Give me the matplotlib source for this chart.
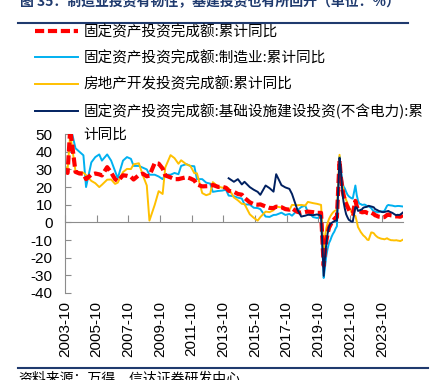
import numpy as np
import matplotlib
matplotlib.use("Agg")
import matplotlib.pyplot as plt

plt.rcParams['font.family'] = ['Liberation Sans', 'Noto Sans CJK SC', 'DejaVu Sans']
plt.rcParams['axes.unicode_minus'] = False

# 采样月份：2003-2019 取 2/6/9/12 月，2020 以后按月
dates = (["2003-10", "2003-12"]
         + [f"{y}-{m:02d}" for y in range(2004, 2020) for m in (2, 6, 9, 12)]
         + [f"{y}-{m:02d}" for y in range(2020, 2025) for m in range(2, 13)]
         + ["2025-02"])

# 固定资产投资完成额:累计同比
fai = [30.0, 28.0,
       53.0, 28.6, 27.7, 27.6,
       24.5, 27.1, 27.7, 27.2,
       26.6, 31.3, 28.2, 24.5,
       23.4, 26.7, 26.4, 25.8,
       24.3, 26.8, 27.6, 26.1,
       26.5, 33.6, 33.3, 30.5,
       26.6, 25.5, 24.5, 24.5,
       24.9, 25.6, 24.9, 23.8,
       21.5, 20.4, 20.5, 20.6,
       21.2, 20.1, 20.2, 19.6,
       17.9, 17.3, 16.1, 15.7,
       13.9, 11.4, 10.3, 10.0,
       10.2, 9.0, 8.2, 8.1,
       8.9, 8.6, 7.5, 7.2,
       7.9, 6.0, 5.4, 5.9,
       6.1, 5.8, 5.4, 5.4,
       -24.5, -16.1, -10.3, -6.3, -3.1, -1.6, -0.3, 0.8, 1.8, 2.6, 2.9,
       35.0, 25.6, 19.9, 15.4, 12.6, 10.3, 8.9, 7.3, 6.1, 5.2, 4.9,
       12.2, 9.3, 6.8, 6.2, 6.1, 5.7, 5.8, 5.9, 5.8, 5.3, 5.1,
       5.5, 5.1, 4.7, 4.0, 3.8, 3.4, 3.2, 3.1, 2.9, 2.9, 3.0,
       4.2, 4.5, 4.2, 4.0, 3.9, 3.6, 3.4, 3.4, 3.4, 3.3, 3.2,
       4.1]

# 固定资产投资完成额:制造业:累计同比
manu = [None, None,
        55.0, 42.0, 40.0, 38.0,
        20.0, 34.0, 37.0, 38.5,
        35.0, 38.5, 35.0, 29.0,
        25.0, 35.0, 37.0, 36.0,
        32.0, 32.0, 31.0, 30.0,
        27.0, 27.0, 26.0, 24.5,
        27.0, 27.0, 28.0, 27.3,
        32.0, 33.0, 32.0, 31.8,
        24.5, 24.5, 22.5, 22.0,
        17.3, 17.8, 18.0, 18.5,
        15.2, 14.8, 14.0, 13.5,
        10.2, 10.1, 8.3, 8.1,
        7.5, 3.3, 3.1, 4.2,
        4.3, 5.5, 4.2, 4.8,
        3.8, 6.8, 8.7, 9.5,
        5.9, 3.0, 2.5, 3.1,
        -31.5, -25.2, -18.8, -14.8, -11.7, -10.2, -8.1, -6.5, -5.3, -3.5, -2.2,
        37.3, 29.8, 23.8, 20.4, 19.2, 17.3, 15.7, 14.8, 14.2, 13.7, 13.5,
        20.9, 15.6, 12.2, 10.6, 10.4, 9.9, 10.0, 10.1, 9.7, 9.3, 9.1,
        8.1, 7.0, 6.4, 6.0, 6.0, 5.7, 5.9, 6.2, 6.2, 6.3, 6.5,
        9.4, 9.9, 9.7, 9.6, 9.5, 9.3, 9.1, 9.2, 9.3, 9.3, 9.2,
        9.0]

# 房地产开发投资完成额:累计同比
estate = [32.0, 29.7,
          50.2, 29.0, 28.5, 28.1,
          26.8, 23.5, 22.2, 20.0,
          21.3, 24.2, 24.3, 21.8,
          22.5, 28.5, 30.3, 30.2,
          32.9, 33.5, 26.7, 20.9,
          1.0, 9.9, 17.7, 16.1,
          31.1, 38.1, 36.4, 33.2,
          35.2, 32.9, 32.0, 27.9,
          27.8, 16.6, 15.4, 16.2,
          22.8, 20.3, 19.7, 19.8,
          19.3, 14.1, 12.5, 10.5,
          10.4, 4.6, 2.6, 1.0,
          3.0, 6.1, 5.8, 6.9,
          8.9, 8.5, 8.1, 7.0,
          9.9, 9.7, 9.9, 9.5,
          11.6, 10.9, 10.5, 9.9,
          -16.3, -7.7, -3.3, -0.3, 1.9, 3.4, 4.6, 5.6, 6.3, 6.8, 7.0,
          38.3, 25.6, 21.6, 18.3, 15.0, 12.7, 10.9, 8.8, 7.2, 6.0, 4.4,
          3.7, 0.7, -2.7, -4.0, -5.4, -6.4, -7.4, -8.0, -8.8, -9.8, -10.0,
          -5.7, -5.8, -6.2, -7.2, -7.9, -8.5, -8.8, -9.1, -9.3, -9.4, -9.6,
          -9.0, -9.5, -9.8, -10.1, -10.1, -10.2, -10.2, -10.1, -10.3, -10.4, -10.6,
          -9.8]

# 固定资产投资完成额:基础设施建设投资(不含电力):累计同比
infra = [None, None] + [None] * 40 + [
         25.0, 23.0, 24.5, 21.5,
         23.0, 20.0, 18.5, 17.3,
         15.6, 20.9, 19.4, 17.4,
         27.3, 21.1, 19.8, 19.0,
         16.1, 7.3, 3.3, 3.8,
         4.3, 4.1, 4.5, 3.8,
         -30.3, -19.7, -11.8, -6.3, -2.7, -1.0, -0.3, 0.2, 0.7, 1.0, 0.9,
         36.6, 29.7, 18.4, 11.8, 7.8, 4.6, 2.9, 1.5, 1.0, 0.5, 0.4,
         8.6, 8.5, 6.5, 6.7, 7.1, 7.4, 8.3, 8.6, 8.7, 8.9, 9.4,
         9.0, 8.8, 8.5, 7.5, 7.2, 6.8, 6.4, 6.2, 5.9, 5.8, 5.9,
         6.3, 6.5, 6.0, 5.7, 5.4, 4.9, 4.4, 4.1, 4.3, 4.2, 4.4,
         5.6]

tick_labels = ["2003-10", "2005-10", "2007-10", "2009-10", "2011-10", "2013-10",
               "2015-10", "2017-10", "2019-10", "2021-10", "2023-10"]
y_ticks = list(range(-40, 51, 10))


def month_index(s):
    y, m = s.split("-")
    return (int(y) - 2003) * 12 + int(m) - 10


x = np.array([month_index(d) for d in dates], dtype=float)
xt = [month_index(t) for t in tick_labels]

def arr(v):
    return np.array([np.nan if a is None else a for a in v], dtype=float)

grey = "#8c8c8c"
navy_title = "#1f3a6e"

fig = plt.figure(figsize=(4.3, 3.8), dpi=100)
ax = fig.add_axes([0.151, 0.229, 0.786, 0.418])

l2, = ax.plot(x, arr(manu), color="#00b0f0", lw=1.4, label="固定资产投资完成额:制造业:累计同比")
l3, = ax.plot(x, arr(estate), color="#ffc000", lw=1.4, label="房地产开发投资完成额:累计同比")
l1, = ax.plot(x, arr(fai), color="#ff0000", lw=3.0, dashes=(2.2, 0.9),
              dash_capstyle="butt", label="固定资产投资完成额:累计同比")
l4, = ax.plot(x, arr(infra), color="#002060", lw=1.4,
              label="固定资产投资完成额:基础设施建设投资(不含电力):累")

ymin, ymax = -40, 50
ax.set_ylim(ymin, ymax)
ax.set_xlim(x[0], x[-1])
ax.set_yticks(y_ticks)
ax.set_yticklabels([str(v) for v in y_ticks], fontsize=11)
ax.tick_params(axis="y", direction="in", length=4, color=grey, pad=9)

# 横轴标签放在底部，轴线画在 0 处
ax.set_xticks(xt)
ax.set_xticklabels(tick_labels, rotation=90, fontsize=11)
ax.tick_params(axis="x", length=0, pad=6)
for s in ["top", "right", "bottom"]:
    ax.spines[s].set_visible(False)
ax.spines["left"].set_color(grey)

zero_ax = ax.secondary_xaxis((0 - ymin) / (ymax - ymin))
zero_ax.set_xticks(xt)
zero_ax.tick_params(direction="in", length=5, color=grey, labelbottom=False)
zero_ax.spines["bottom"].set_color(grey)

cjk = ['Noto Sans CJK SC', 'DejaVu Sans']
leg = fig.legend(handles=[l1, l2, l3, l4], loc="upper left",
                 bbox_to_anchor=(0.081, 0.935), frameon=False,
                 borderpad=0, borderaxespad=0, handlelength=2.95,
                 handletextpad=0.4, labelspacing=0.81,
                 prop={"family": cjk, "size": 10.5})
fig.text(83 / 430, 1 - 135 / 380, "计同比", family=cjk, fontsize=10.5, va="center")

# 标题、分隔线、来源
fig.text(20 / 430, 1 - 1 / 380, "图 35：制造业投资有韧性，基建投资也有所回升（单位：%）",
         family=cjk, fontsize=10, fontweight="bold", color=navy_title, va="center")
fig.add_artist(plt.Line2D([18 / 430, 408 / 430], [1 - 22.5 / 380] * 2,
                          color=navy_title, lw=1.5))
fig.add_artist(plt.Line2D([18 / 430, 428 / 430], [1 - 368 / 380] * 2,
                          color=navy_title, lw=1.5))
fig.text(18 / 430, 1 - 378 / 380, "资料来源：万得，信达证券研发中心",
         family=cjk, fontsize=10, style="italic", va="center")

fig.savefig("out.png", dpi=100)
